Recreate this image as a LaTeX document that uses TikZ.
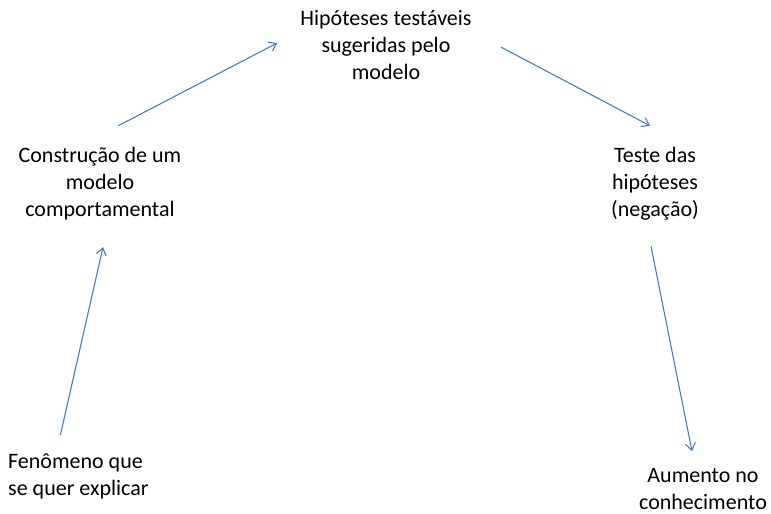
\documentclass[tikz,border=0pt]{standalone}
\usepackage{fontspec}
\setmainfont{Carlito}
\usetikzlibrary{calc,arrows.meta}
\definecolor{arrowblue}{HTML}{4A7EBB}
\begin{document}
\begin{tikzpicture}[x=1pt,y=-1pt]
        \useasboundingbox (0,0) rectangle (771,514);
        \begin{scope}[every node/.style={inner sep=0pt,align=center,text=black,font=\fontsize{22}{27}\selectfont}]
            \node (hyp) at (386,45) {Hipóteses testáveis\\sugeridas pelo\\modelo};
            \node (constr) at (100,184) {Construção de um\\modelo\\comportamental};
            \node (teste) at (655,184) {Teste das\\hipóteses\\(negação)};
            \node[anchor=west,align=left] (fen) at (8,476.5) {Fenômeno que\\se quer explicar};
            \node (aum) at (703,489.5) {Aumento no\\conhecimento};
        \end{scope}
        \begin{scope}[line width=1.1pt,draw=arrowblue,-{Straight Barb[length=7pt,width=10pt]}]
            \draw ($(fen.north)+(-18,-18.5)$)--($(constr.south)+(3,26.5)$);
            \draw ($(constr.north)+(18,-21.5)$)--($(hyp.west)+(-23,-2)$);
            \draw ($(hyp.east)+(29,2)$)--($(teste.north)+(-5,-21.5)$);
            \draw ($(teste.south)+(-4,25.5)$)--($(aum.north)+(-11,-17.5)$);
        \end{scope}
    \end{tikzpicture}
\end{document}
